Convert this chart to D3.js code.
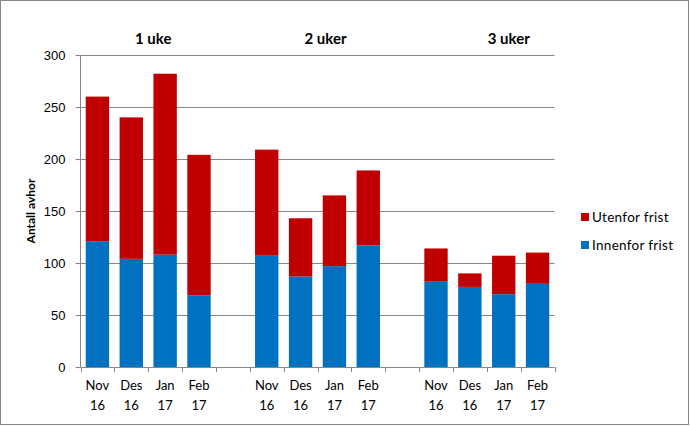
<!DOCTYPE html>
<html><head><meta charset="utf-8">
<script src="https://cdn.jsdelivr.net/npm/d3@7"></script>
<style>body{margin:0;background:#fff}svg{display:block;font-family:Lato,"Open Sans",sans-serif}</style>
</head><body><svg id="c" width="690" height="426"></svg>
<script>
const groups = ["1 uke", "2 uker", "3 uker"];
const months = ["Nov", "Des", "Jan", "Feb"];
const years = ["16", "16", "17", "17"];
const innenfor = [[121, 104, 108, 69], [107, 87, 97, 117], [82, 77, 70, 80]];
const utenfor = [[139, 136, 174, 135], [102, 56, 68, 72], [32, 13, 37, 30]];
const seriesNames = ["Innenfor frist", "Utenfor frist"];
const colors = ["#0070C0", "#C00000"];
const yTicks = [0, 50, 100, 150, 200, 250, 300];

const svg = d3.select("#c");
svg.append("rect").attr("x",0.5).attr("y",0.5).attr("width",688).attr("height",424)
  .attr("fill","#fff").attr("stroke","#868686");

const L = 80.5, R = 554.5, T = 55, B = 367;
const slots = [];
groups.forEach((g, gi) => {
  months.forEach((m, mi) => slots.push({g: gi, m: mi, key: gi + "-" + mi}));
  if (gi < groups.length - 1) slots.push({g: gi, m: -1, key: "gap" + gi});
});
const x = d3.scaleBand().domain(slots.map(s => s.key)).range([L, R]).paddingInner(0.31).paddingOuter(0.155);
const y = d3.scaleLinear().domain([0, 300]).range([B, T]);

svg.append("g").selectAll("line").data(yTicks.slice(1)).join("line")
  .attr("x1", L).attr("x2", R).attr("y1", d => Math.round(y(d)) + 0.5).attr("y2", d => Math.round(y(d)) + 0.5)
  .attr("stroke", "#868686").attr("stroke-width", 1);

const bars = [];
slots.filter(s => s.m >= 0).forEach(s => {
  const a = innenfor[s.g][s.m], b = utenfor[s.g][s.m];
  bars.push({key: s.key, y0: 0, y1: a, c: colors[0]});
  bars.push({key: s.key, y0: a, y1: a + b, c: colors[1]});
});
svg.append("g").selectAll("rect").data(bars).join("rect")
  .attr("x", d => x(d.key)).attr("width", x.bandwidth())
  .attr("y", d => y(d.y1)).attr("height", d => y(d.y0) - y(d.y1)).attr("fill", d => d.c);

const ya = svg.append("g").attr("transform", `translate(${L},0)`)
  .call(d3.axisLeft(y).tickValues(yTicks).tickSize(5).tickPadding(10));
ya.select(".domain").attr("stroke", "#868686").attr("d", `M0,${T}V${B}`);
ya.selectAll(".tick line").attr("stroke", "#868686");
ya.selectAll("text").attr("font-size", 13).attr("fill", "#000");

const xa = svg.append("g");
xa.append("line").attr("x1", L).attr("x2", R).attr("y1", B + 0.5).attr("y2", B + 0.5).attr("stroke", "#868686");
const tickXs = d3.range(slots.length + 1).map(i => L + i * (R - L) / slots.length);
xa.selectAll("line.t").data(tickXs).join("line").attr("class","t")
  .attr("x1", d => Math.round(d) + 0.5).attr("x2", d => Math.round(d) + 0.5)
  .attr("y1", B).attr("y2", B + 5).attr("stroke", "#868686");
const lab = xa.selectAll("g.l").data(slots.filter(s => s.m >= 0)).join("g").attr("class","l")
  .attr("transform", d => `translate(${x(d.key) + x.bandwidth() / 2},0)`);
lab.append("text").attr("y", 390).attr("text-anchor", "middle").attr("font-size", 13).text(d => months[d.m]);
lab.append("text").attr("y", 410).attr("text-anchor", "middle").attr("font-size", 13).text(d => years[d.m]);

const titleShift = [5, 8, 22];
groups.forEach((g, gi) => {
  const cx = (x(gi + "-0") + x(gi + "-3") + x.bandwidth()) / 2;
  svg.append("text").attr("x", cx + titleShift[gi]).attr("y", 44).attr("text-anchor", "middle")
    .attr("font-size", 15).attr("font-weight", "bold").text(g);
});

svg.append("text").attr("transform", "translate(35,211) rotate(-90)").attr("text-anchor", "middle")
  .attr("font-size", 12).attr("font-weight", "bold").text("Antall avhor");

const leg = [{n: seriesNames[1], c: colors[1], y: 213}, {n: seriesNames[0], c: colors[0], y: 241}];
const lg = svg.append("g").selectAll("g").data(leg).join("g");
lg.append("rect").attr("x", 581).attr("y", d => d.y).attr("width", 8).attr("height", 8).attr("fill", d => d.c);
lg.append("text").attr("x", 592).attr("y", d => d.y + 9).attr("font-size", 13.5).attr("letter-spacing", 0.3).text(d => d.n);
</script></body></html>
